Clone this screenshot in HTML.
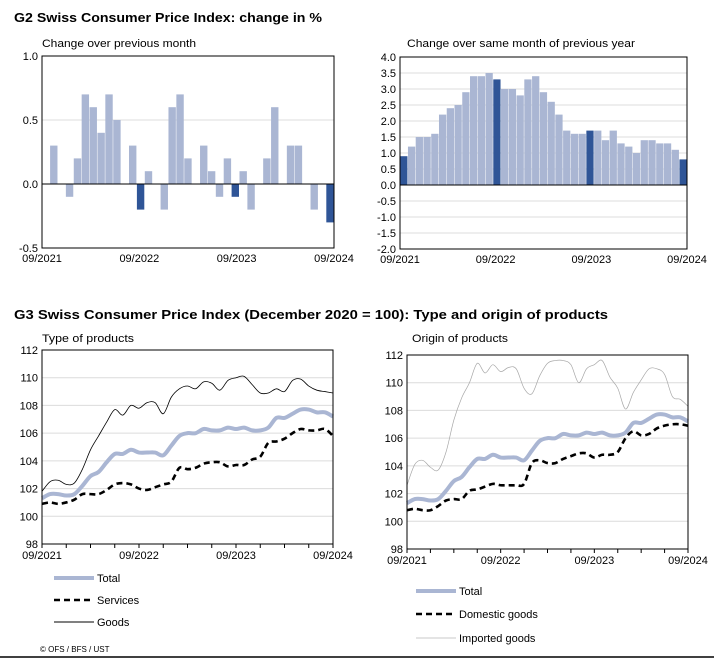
<!DOCTYPE html>
<html><head><meta charset="utf-8"><style>
body{margin:0;background:#fff;font-family:"Liberation Sans",Arial,sans-serif;}
svg text{font-family:"Liberation Sans",Arial,sans-serif;fill:#000;}
</style></head><body>
<svg id="c" width="714" height="658" viewBox="0 0 714 658" xmlns="http://www.w3.org/2000/svg">
<text x="14" y="22" font-size="13" font-weight="bold" textLength="308" lengthAdjust="spacingAndGlyphs">G2  Swiss Consumer Price Index: change in %</text>
<text x="42" y="47" font-size="11" textLength="154" lengthAdjust="spacingAndGlyphs">Change over previous month</text>
<text x="407" y="47" font-size="11" textLength="228" lengthAdjust="spacingAndGlyphs">Change over same month of previous year</text>
<text x="14" y="319" font-size="13" font-weight="bold" textLength="594" lengthAdjust="spacingAndGlyphs">G3 Swiss Consumer Price Index (December 2020 = 100): Type and origin of products</text>
<text x="42" y="342" font-size="11" textLength="92" lengthAdjust="spacingAndGlyphs">Type of products</text>
<text x="412" y="342" font-size="11" textLength="96" lengthAdjust="spacingAndGlyphs">Origin of products</text>
<text x="40" y="652" font-size="8">© OFS / BFS / UST</text>
<line x1="0" y1="657" x2="714" y2="657" stroke="#000" stroke-width="1.5"/>
</svg>
<script>
const monthly = [0,0.3,0,-0.1,0.2,0.7,0.6,0.4,0.7,0.5,0,0.3,-0.2,0.1,0,-0.2,0.6,0.7,0.2,0,0.3,0.1,-0.1,0.2,-0.1,0.1,-0.2,0,0.2,0.6,0,0.3,0.3,0,-0.2,0,-0.3];
const yearly = [0.9,1.2,1.5,1.5,1.6,2.2,2.4,2.5,2.9,3.4,3.4,3.5,3.3,3.0,3.0,2.8,3.3,3.4,2.9,2.6,2.2,1.7,1.6,1.6,1.7,1.7,1.4,1.7,1.3,1.2,1.0,1.4,1.4,1.3,1.3,1.1,0.8];
const darkIdx = [0,12,24,36];
const xLabels = ["09/2021","09/2022","09/2023","09/2024"];
const total = [101.3,101.6,101.6,101.5,101.6,102.2,102.9,103.2,103.9,104.5,104.5,104.8,104.6,104.6,104.6,104.4,105.1,105.8,106.0,106.0,106.3,106.2,106.2,106.4,106.3,106.4,106.2,106.2,106.4,107.1,107.1,107.4,107.7,107.7,107.5,107.5,107.2];
const services = [100.9,101.0,100.9,101.0,101.2,101.6,101.6,101.6,101.9,102.3,102.4,102.3,102.0,101.9,102.1,102.3,102.5,103.5,103.4,103.5,103.8,103.9,103.9,103.6,103.7,103.7,104.1,104.3,105.3,105.4,105.6,106.0,106.3,106.2,106.2,106.3,105.8];
const goods = [101.8,102.5,102.6,102.3,102.4,103.4,104.8,105.8,106.8,107.7,107.3,108.0,107.8,108.2,108.2,107.4,108.6,109.2,109.4,109.2,109.7,109.6,109.1,109.8,110.0,110.1,109.5,108.9,108.9,109.2,109.0,109.8,109.9,109.4,109.1,109.0,108.9];
const domestic = [100.8,100.9,100.8,100.8,101.1,101.5,101.6,101.6,102.2,102.3,102.5,102.7,102.6,102.6,102.6,102.7,104.2,104.4,104.2,104.2,104.5,104.7,104.9,104.9,104.6,104.8,104.8,105.0,106.0,106.5,106.2,106.3,106.7,106.9,107.0,107.0,106.9];
const imported = [102.6,104.1,104.4,103.9,103.7,105.0,107.3,108.9,110.0,111.4,110.7,111.3,110.8,111.1,111.0,109.6,109.2,110.5,111.4,111.6,111.6,111.3,110.0,111.0,111.3,111.6,110.4,109.6,108.1,109.3,110.2,111.0,111.0,110.6,109.0,108.8,108.3];
const ticksM = [1.0,0.5,0.0,-0.5];
const ticksY = [4.0,3.5,3.0,2.5,2.0,1.5,1.0,0.5,0.0,-0.5,-1.0,-1.5,-2.0];
const ticksIdx = [112,110,108,106,104,102,100,98];

const svg=document.getElementById('c');
const NS='http://www.w3.org/2000/svg';
function mk(tag,attrs,parent){const e=document.createElementNS(NS,tag);for(const k in attrs)e.setAttribute(k,attrs[k]);(parent||svg).appendChild(e);return e;}

function frame(name,x0,x1,y0,y1,vmax,vmin,ticks,fmt){
  const g=mk('g',{});
  
  
  const sy=v=>y0+(vmax-v)/(vmax-vmin)*(y1-y0);
  ticks.forEach(t=>{
    if(t!==vmax&&t!==vmin){const l=mk('line',{x1:x0,x2:x1,y1:sy(t),y2:sy(t),stroke:'#dcdcdc','stroke-width':1},g);
    
    }
    const tx=mk('text',{x:x0-4,y:sy(t)+4,'font-size':11,'text-anchor':'end'},g);
    
    
    tx.textContent=fmt(t);
  });
  return {g,sy};
}
function axes(g,x0,x1,y0,y1){
  mk('rect',{x:x0,y:y0,width:x1-x0,height:y1-y0,fill:'none',stroke:'#000','stroke-width':1},g);
}
function xlabels(g,x0,x1,y,ticks,y1){
  xLabels.forEach((s,i)=>{
    const x=x0+i*(x1-x0)/3;
    const t=mk('text',{x:x,y:y,'font-size':11,'text-anchor':'middle'},g);
    
    
    t.textContent=s;
  });
  if(ticks){for(let i=0;i<=12;i++){const x=x0+i*(x1-x0)/12;mk('line',{x1:x,x2:x,y1:y1,y2:y1+4,stroke:'#000'},g);}}
}
function bars(name,data,x0,x1,y0,y1,vmax,vmin,ticks,fmt){
  const {g,sy}=frame(name,x0,x1,y0,y1,vmax,vmin,ticks,fmt);
  const w=(x1-x0)/data.length;
  data.forEach((v,i)=>{
    const a=sy(Math.max(v,0)),b=sy(Math.min(v,0));
    if(b-a<0.01)return;
    const r=mk('rect',{x:x0+i*w+0.2,y:a,width:w-0.5,height:b-a,fill:darkIdx.includes(i)?'#2f5597':'#aab6d3'},g);
    
    
  });
  mk('line',{x1:x0,x2:x1,y1:sy(0),y2:sy(0),stroke:'#000','stroke-width':1},g);
  axes(g,x0,x1,y0,y1);
  xlabels(g,x0,x1,y1+14,false,y1);
}
bars('monthly-change-chart',monthly,42,334,56,248,1.0,-0.5,ticksM,t=>t.toFixed(1));
bars('yearly-change-chart',yearly,400,687,57,249,4.0,-2.0,ticksY,t=>t.toFixed(1));

function lines(name,series,x0,x1,y0,y1){
  const {g,sy}=frame(name,x0,x1,y0,y1,112,98,ticksIdx,t=>String(t));
  series.forEach(s=>{
    const n=s.data.length;
    const pts=s.data.map((v,i)=>[x0+i*(x1-x0)/(n-1),sy(v)]);
    let d='M'+pts[0][0]+','+pts[0][1];
    for(let i=1;i<n;i++){const p0=pts[Math.max(i-2,0)],p1=pts[i-1],p2=pts[i],p3=pts[Math.min(i+1,n-1)];
      d+=' C'+(p1[0]+(p2[0]-p0[0])/6)+','+(p1[1]+(p2[1]-p0[1])/6)+' '+(p2[0]-(p3[0]-p1[0])/6)+','+(p2[1]-(p3[1]-p1[1])/6)+' '+p2[0]+','+p2[1];}
    const p=mk('path',{d:d,fill:'none',stroke:s.color,'stroke-width':s.w,'stroke-dasharray':s.dash||'none'},g);
    
    
  });
  axes(g,x0,x1,y0,y1);
  xlabels(g,x0,x1,y1+15,true,y1);
}
lines('type-of-products-chart',[
  {name:'goods-line',data:goods,color:'#000',w:0.8},
  {name:'total-line',data:total,color:'#aab6d3',w:4},
  {name:'services-line',data:services,color:'#000',w:2.6,dash:'6,4'}],42,333,350,544);
lines('origin-of-products-chart',[
  {name:'imported-goods-line',data:imported,color:'#a8a8a8',w:0.7},
  {name:'total-line',data:total,color:'#aab6d3',w:4},
  {name:'domestic-goods-line',data:domestic,color:'#000',w:2.6,dash:'6,4'}],407,688,355,549);

function legend(name,x,y,label,color,w,dash){
  const g=mk('g',{});
  
  
  mk('line',{x1:x,x2:x+40,y1:y,y2:y,stroke:color,'stroke-width':w,'stroke-dasharray':dash||'none'},g);
  const t=mk('text',{x:x+43,y:y+4,'font-size':11},g);
  t.textContent=label;
}
legend('legend-total',54,578,'Total','#aab6d3',4);
legend('legend-services',54,600,'Services','#000',2.6,'6,4');
legend('legend-goods',54,622,'Goods','#000',1);
legend('legend-total-origin',416,591,'Total','#aab6d3',4);
legend('legend-domestic-goods',416,614,'Domestic goods','#000',2.6,'6,4');
legend('legend-imported-goods',416,638,'Imported goods','#c8c8c8',1);
</script>
</body></html>
